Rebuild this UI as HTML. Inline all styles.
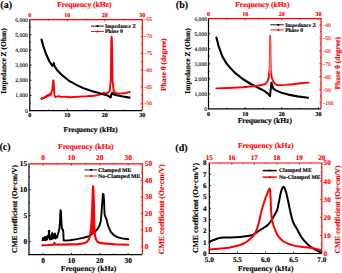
<!DOCTYPE html><html><head><meta charset="utf-8"><style>html,body{margin:0;padding:0;background:#fff;width:342px;height:273px;overflow:hidden}svg{display:block}text{font-family:"Liberation Serif", serif;font-weight:bold;text-rendering:geometricPrecision}</style></head><body>
<svg width="342" height="273" viewBox="0 0 342 273">
<rect width="342" height="273" fill="#fff"/>
<line x1="67.3" y1="110.6" x2="67.3" y2="108.9" stroke="#000000" stroke-width="0.9" stroke-linecap="butt"/>
<line x1="104.8" y1="110.6" x2="104.8" y2="108.9" stroke="#000000" stroke-width="0.9" stroke-linecap="butt"/>
<line x1="48.55" y1="110.6" x2="48.55" y2="109.6" stroke="#000000" stroke-width="0.9" stroke-linecap="butt"/>
<line x1="86.05" y1="110.6" x2="86.05" y2="109.6" stroke="#000000" stroke-width="0.9" stroke-linecap="butt"/>
<line x1="123.55" y1="110.6" x2="123.55" y2="109.6" stroke="#000000" stroke-width="0.9" stroke-linecap="butt"/>
<line x1="67.3" y1="19.6" x2="67.3" y2="21.3" stroke="#ff0000" stroke-width="0.9" stroke-linecap="butt"/>
<line x1="104.8" y1="19.6" x2="104.8" y2="21.3" stroke="#ff0000" stroke-width="0.9" stroke-linecap="butt"/>
<line x1="48.55" y1="19.6" x2="48.55" y2="20.6" stroke="#ff0000" stroke-width="0.9" stroke-linecap="butt"/>
<line x1="86.05" y1="19.6" x2="86.05" y2="20.6" stroke="#ff0000" stroke-width="0.9" stroke-linecap="butt"/>
<line x1="123.55" y1="19.6" x2="123.55" y2="20.6" stroke="#ff0000" stroke-width="0.9" stroke-linecap="butt"/>
<line x1="29.8" y1="95.43" x2="31.5" y2="95.43" stroke="#000000" stroke-width="0.9" stroke-linecap="butt"/>
<line x1="29.8" y1="80.27" x2="31.5" y2="80.27" stroke="#000000" stroke-width="0.9" stroke-linecap="butt"/>
<line x1="29.8" y1="65.1" x2="31.5" y2="65.1" stroke="#000000" stroke-width="0.9" stroke-linecap="butt"/>
<line x1="29.8" y1="49.93" x2="31.5" y2="49.93" stroke="#000000" stroke-width="0.9" stroke-linecap="butt"/>
<line x1="29.8" y1="34.77" x2="31.5" y2="34.77" stroke="#000000" stroke-width="0.9" stroke-linecap="butt"/>
<line x1="29.8" y1="103.02" x2="30.8" y2="103.02" stroke="#000000" stroke-width="0.9" stroke-linecap="butt"/>
<line x1="29.8" y1="87.85" x2="30.8" y2="87.85" stroke="#000000" stroke-width="0.9" stroke-linecap="butt"/>
<line x1="29.8" y1="72.68" x2="30.8" y2="72.68" stroke="#000000" stroke-width="0.9" stroke-linecap="butt"/>
<line x1="29.8" y1="57.52" x2="30.8" y2="57.52" stroke="#000000" stroke-width="0.9" stroke-linecap="butt"/>
<line x1="29.8" y1="42.35" x2="30.8" y2="42.35" stroke="#000000" stroke-width="0.9" stroke-linecap="butt"/>
<line x1="29.8" y1="27.18" x2="30.8" y2="27.18" stroke="#000000" stroke-width="0.9" stroke-linecap="butt"/>
<line x1="142.3" y1="103.86" x2="140.6" y2="103.86" stroke="#ff0000" stroke-width="0.9" stroke-linecap="butt"/>
<line x1="142.3" y1="87.01" x2="140.6" y2="87.01" stroke="#ff0000" stroke-width="0.9" stroke-linecap="butt"/>
<line x1="142.3" y1="70.16" x2="140.6" y2="70.16" stroke="#ff0000" stroke-width="0.9" stroke-linecap="butt"/>
<line x1="142.3" y1="53.3" x2="140.6" y2="53.3" stroke="#ff0000" stroke-width="0.9" stroke-linecap="butt"/>
<line x1="142.3" y1="36.45" x2="140.6" y2="36.45" stroke="#ff0000" stroke-width="0.9" stroke-linecap="butt"/>
<line x1="142.3" y1="95.43" x2="141.3" y2="95.43" stroke="#ff0000" stroke-width="0.9" stroke-linecap="butt"/>
<line x1="142.3" y1="78.58" x2="141.3" y2="78.58" stroke="#ff0000" stroke-width="0.9" stroke-linecap="butt"/>
<line x1="142.3" y1="61.73" x2="141.3" y2="61.73" stroke="#ff0000" stroke-width="0.9" stroke-linecap="butt"/>
<line x1="142.3" y1="44.88" x2="141.3" y2="44.88" stroke="#ff0000" stroke-width="0.9" stroke-linecap="butt"/>
<line x1="142.3" y1="28.03" x2="141.3" y2="28.03" stroke="#ff0000" stroke-width="0.9" stroke-linecap="butt"/>
<line x1="29.8" y1="19.6" x2="29.8" y2="111.2" stroke="#000000" stroke-width="1.2" stroke-linecap="butt"/>
<line x1="29.2" y1="110.6" x2="142.3" y2="110.6" stroke="#000000" stroke-width="1.2" stroke-linecap="butt"/>
<line x1="29.2" y1="19.6" x2="142.9" y2="19.6" stroke="#ff0000" stroke-width="1.2" stroke-linecap="butt"/>
<line x1="142.3" y1="19.6" x2="142.3" y2="110" stroke="#ff0000" stroke-width="1.2" stroke-linecap="butt"/>
<line x1="245.13" y1="108.9" x2="245.13" y2="107.2" stroke="#000000" stroke-width="0.9" stroke-linecap="butt"/>
<line x1="281.77" y1="108.9" x2="281.77" y2="107.2" stroke="#000000" stroke-width="0.9" stroke-linecap="butt"/>
<line x1="318.4" y1="108.9" x2="318.4" y2="107.2" stroke="#000000" stroke-width="0.9" stroke-linecap="butt"/>
<line x1="226.82" y1="108.9" x2="226.82" y2="107.9" stroke="#000000" stroke-width="0.9" stroke-linecap="butt"/>
<line x1="263.45" y1="108.9" x2="263.45" y2="107.9" stroke="#000000" stroke-width="0.9" stroke-linecap="butt"/>
<line x1="300.08" y1="108.9" x2="300.08" y2="107.9" stroke="#000000" stroke-width="0.9" stroke-linecap="butt"/>
<line x1="245.13" y1="18.7" x2="245.13" y2="20.4" stroke="#ff0000" stroke-width="0.9" stroke-linecap="butt"/>
<line x1="281.77" y1="18.7" x2="281.77" y2="20.4" stroke="#ff0000" stroke-width="0.9" stroke-linecap="butt"/>
<line x1="318.4" y1="18.7" x2="318.4" y2="20.4" stroke="#ff0000" stroke-width="0.9" stroke-linecap="butt"/>
<line x1="226.82" y1="18.7" x2="226.82" y2="19.7" stroke="#ff0000" stroke-width="0.9" stroke-linecap="butt"/>
<line x1="263.45" y1="18.7" x2="263.45" y2="19.7" stroke="#ff0000" stroke-width="0.9" stroke-linecap="butt"/>
<line x1="300.08" y1="18.7" x2="300.08" y2="19.7" stroke="#ff0000" stroke-width="0.9" stroke-linecap="butt"/>
<line x1="208.5" y1="93.87" x2="210.2" y2="93.87" stroke="#000000" stroke-width="0.9" stroke-linecap="butt"/>
<line x1="208.5" y1="78.83" x2="210.2" y2="78.83" stroke="#000000" stroke-width="0.9" stroke-linecap="butt"/>
<line x1="208.5" y1="63.8" x2="210.2" y2="63.8" stroke="#000000" stroke-width="0.9" stroke-linecap="butt"/>
<line x1="208.5" y1="48.77" x2="210.2" y2="48.77" stroke="#000000" stroke-width="0.9" stroke-linecap="butt"/>
<line x1="208.5" y1="33.73" x2="210.2" y2="33.73" stroke="#000000" stroke-width="0.9" stroke-linecap="butt"/>
<line x1="208.5" y1="101.38" x2="209.5" y2="101.38" stroke="#000000" stroke-width="0.9" stroke-linecap="butt"/>
<line x1="208.5" y1="86.35" x2="209.5" y2="86.35" stroke="#000000" stroke-width="0.9" stroke-linecap="butt"/>
<line x1="208.5" y1="71.32" x2="209.5" y2="71.32" stroke="#000000" stroke-width="0.9" stroke-linecap="butt"/>
<line x1="208.5" y1="56.28" x2="209.5" y2="56.28" stroke="#000000" stroke-width="0.9" stroke-linecap="butt"/>
<line x1="208.5" y1="41.25" x2="209.5" y2="41.25" stroke="#000000" stroke-width="0.9" stroke-linecap="butt"/>
<line x1="208.5" y1="26.22" x2="209.5" y2="26.22" stroke="#000000" stroke-width="0.9" stroke-linecap="butt"/>
<line x1="321" y1="102.46" x2="319.3" y2="102.46" stroke="#ff0000" stroke-width="0.9" stroke-linecap="butt"/>
<line x1="321" y1="89.57" x2="319.3" y2="89.57" stroke="#ff0000" stroke-width="0.9" stroke-linecap="butt"/>
<line x1="321" y1="76.69" x2="319.3" y2="76.69" stroke="#ff0000" stroke-width="0.9" stroke-linecap="butt"/>
<line x1="321" y1="63.8" x2="319.3" y2="63.8" stroke="#ff0000" stroke-width="0.9" stroke-linecap="butt"/>
<line x1="321" y1="50.91" x2="319.3" y2="50.91" stroke="#ff0000" stroke-width="0.9" stroke-linecap="butt"/>
<line x1="321" y1="38.03" x2="319.3" y2="38.03" stroke="#ff0000" stroke-width="0.9" stroke-linecap="butt"/>
<line x1="321" y1="25.14" x2="319.3" y2="25.14" stroke="#ff0000" stroke-width="0.9" stroke-linecap="butt"/>
<line x1="321" y1="96.01" x2="320" y2="96.01" stroke="#ff0000" stroke-width="0.9" stroke-linecap="butt"/>
<line x1="321" y1="83.13" x2="320" y2="83.13" stroke="#ff0000" stroke-width="0.9" stroke-linecap="butt"/>
<line x1="321" y1="70.24" x2="320" y2="70.24" stroke="#ff0000" stroke-width="0.9" stroke-linecap="butt"/>
<line x1="321" y1="57.36" x2="320" y2="57.36" stroke="#ff0000" stroke-width="0.9" stroke-linecap="butt"/>
<line x1="321" y1="44.47" x2="320" y2="44.47" stroke="#ff0000" stroke-width="0.9" stroke-linecap="butt"/>
<line x1="321" y1="31.59" x2="320" y2="31.59" stroke="#ff0000" stroke-width="0.9" stroke-linecap="butt"/>
<line x1="208.5" y1="18.7" x2="208.5" y2="109.5" stroke="#000000" stroke-width="1.2" stroke-linecap="butt"/>
<line x1="207.9" y1="108.9" x2="321" y2="108.9" stroke="#000000" stroke-width="1.2" stroke-linecap="butt"/>
<line x1="207.9" y1="18.7" x2="321.6" y2="18.7" stroke="#ff0000" stroke-width="1.2" stroke-linecap="butt"/>
<line x1="321" y1="18.7" x2="321" y2="108.3" stroke="#ff0000" stroke-width="1.2" stroke-linecap="butt"/>
<line x1="43.16" y1="254.6" x2="43.16" y2="252.9" stroke="#000000" stroke-width="0.9" stroke-linecap="butt"/>
<line x1="71.49" y1="254.6" x2="71.49" y2="252.9" stroke="#000000" stroke-width="0.9" stroke-linecap="butt"/>
<line x1="99.81" y1="254.6" x2="99.81" y2="252.9" stroke="#000000" stroke-width="0.9" stroke-linecap="butt"/>
<line x1="128.14" y1="254.6" x2="128.14" y2="252.9" stroke="#000000" stroke-width="0.9" stroke-linecap="butt"/>
<line x1="57.33" y1="254.6" x2="57.33" y2="253.6" stroke="#000000" stroke-width="0.9" stroke-linecap="butt"/>
<line x1="85.65" y1="254.6" x2="85.65" y2="253.6" stroke="#000000" stroke-width="0.9" stroke-linecap="butt"/>
<line x1="113.98" y1="254.6" x2="113.98" y2="253.6" stroke="#000000" stroke-width="0.9" stroke-linecap="butt"/>
<line x1="43.16" y1="163.9" x2="43.16" y2="165.6" stroke="#ff0000" stroke-width="0.9" stroke-linecap="butt"/>
<line x1="71.49" y1="163.9" x2="71.49" y2="165.6" stroke="#ff0000" stroke-width="0.9" stroke-linecap="butt"/>
<line x1="99.81" y1="163.9" x2="99.81" y2="165.6" stroke="#ff0000" stroke-width="0.9" stroke-linecap="butt"/>
<line x1="128.14" y1="163.9" x2="128.14" y2="165.6" stroke="#ff0000" stroke-width="0.9" stroke-linecap="butt"/>
<line x1="57.33" y1="163.9" x2="57.33" y2="164.9" stroke="#ff0000" stroke-width="0.9" stroke-linecap="butt"/>
<line x1="85.65" y1="163.9" x2="85.65" y2="164.9" stroke="#ff0000" stroke-width="0.9" stroke-linecap="butt"/>
<line x1="113.98" y1="163.9" x2="113.98" y2="164.9" stroke="#ff0000" stroke-width="0.9" stroke-linecap="butt"/>
<line x1="29" y1="241.64" x2="30.7" y2="241.64" stroke="#000000" stroke-width="0.9" stroke-linecap="butt"/>
<line x1="29" y1="215.73" x2="30.7" y2="215.73" stroke="#000000" stroke-width="0.9" stroke-linecap="butt"/>
<line x1="29" y1="189.81" x2="30.7" y2="189.81" stroke="#000000" stroke-width="0.9" stroke-linecap="butt"/>
<line x1="29" y1="228.69" x2="30" y2="228.69" stroke="#000000" stroke-width="0.9" stroke-linecap="butt"/>
<line x1="29" y1="202.77" x2="30" y2="202.77" stroke="#000000" stroke-width="0.9" stroke-linecap="butt"/>
<line x1="29" y1="176.86" x2="30" y2="176.86" stroke="#000000" stroke-width="0.9" stroke-linecap="butt"/>
<line x1="142.3" y1="246.35" x2="140.6" y2="246.35" stroke="#ff0000" stroke-width="0.9" stroke-linecap="butt"/>
<line x1="142.3" y1="229.86" x2="140.6" y2="229.86" stroke="#ff0000" stroke-width="0.9" stroke-linecap="butt"/>
<line x1="142.3" y1="213.37" x2="140.6" y2="213.37" stroke="#ff0000" stroke-width="0.9" stroke-linecap="butt"/>
<line x1="142.3" y1="196.88" x2="140.6" y2="196.88" stroke="#ff0000" stroke-width="0.9" stroke-linecap="butt"/>
<line x1="142.3" y1="180.39" x2="140.6" y2="180.39" stroke="#ff0000" stroke-width="0.9" stroke-linecap="butt"/>
<line x1="142.3" y1="238.11" x2="141.3" y2="238.11" stroke="#ff0000" stroke-width="0.9" stroke-linecap="butt"/>
<line x1="142.3" y1="221.62" x2="141.3" y2="221.62" stroke="#ff0000" stroke-width="0.9" stroke-linecap="butt"/>
<line x1="142.3" y1="205.13" x2="141.3" y2="205.13" stroke="#ff0000" stroke-width="0.9" stroke-linecap="butt"/>
<line x1="142.3" y1="188.64" x2="141.3" y2="188.64" stroke="#ff0000" stroke-width="0.9" stroke-linecap="butt"/>
<line x1="142.3" y1="172.15" x2="141.3" y2="172.15" stroke="#ff0000" stroke-width="0.9" stroke-linecap="butt"/>
<line x1="29" y1="163.9" x2="29" y2="255.2" stroke="#000000" stroke-width="1.2" stroke-linecap="butt"/>
<line x1="28.4" y1="254.6" x2="142.3" y2="254.6" stroke="#000000" stroke-width="1.2" stroke-linecap="butt"/>
<line x1="28.4" y1="163.9" x2="142.9" y2="163.9" stroke="#ff0000" stroke-width="1.2" stroke-linecap="butt"/>
<line x1="142.3" y1="163.9" x2="142.3" y2="254" stroke="#ff0000" stroke-width="1.2" stroke-linecap="butt"/>
<line x1="237.43" y1="253.5" x2="237.43" y2="251.8" stroke="#000000" stroke-width="0.9" stroke-linecap="butt"/>
<line x1="265.55" y1="253.5" x2="265.55" y2="251.8" stroke="#000000" stroke-width="0.9" stroke-linecap="butt"/>
<line x1="293.68" y1="253.5" x2="293.68" y2="251.8" stroke="#000000" stroke-width="0.9" stroke-linecap="butt"/>
<line x1="223.36" y1="253.5" x2="223.36" y2="252.5" stroke="#000000" stroke-width="0.9" stroke-linecap="butt"/>
<line x1="251.49" y1="253.5" x2="251.49" y2="252.5" stroke="#000000" stroke-width="0.9" stroke-linecap="butt"/>
<line x1="279.61" y1="253.5" x2="279.61" y2="252.5" stroke="#000000" stroke-width="0.9" stroke-linecap="butt"/>
<line x1="307.74" y1="253.5" x2="307.74" y2="252.5" stroke="#000000" stroke-width="0.9" stroke-linecap="butt"/>
<line x1="231.8" y1="163" x2="231.8" y2="164.7" stroke="#ff0000" stroke-width="0.9" stroke-linecap="butt"/>
<line x1="254.3" y1="163" x2="254.3" y2="164.7" stroke="#ff0000" stroke-width="0.9" stroke-linecap="butt"/>
<line x1="276.8" y1="163" x2="276.8" y2="164.7" stroke="#ff0000" stroke-width="0.9" stroke-linecap="butt"/>
<line x1="299.3" y1="163" x2="299.3" y2="164.7" stroke="#ff0000" stroke-width="0.9" stroke-linecap="butt"/>
<line x1="220.55" y1="163" x2="220.55" y2="164" stroke="#ff0000" stroke-width="0.9" stroke-linecap="butt"/>
<line x1="243.05" y1="163" x2="243.05" y2="164" stroke="#ff0000" stroke-width="0.9" stroke-linecap="butt"/>
<line x1="265.55" y1="163" x2="265.55" y2="164" stroke="#ff0000" stroke-width="0.9" stroke-linecap="butt"/>
<line x1="288.05" y1="163" x2="288.05" y2="164" stroke="#ff0000" stroke-width="0.9" stroke-linecap="butt"/>
<line x1="310.55" y1="163" x2="310.55" y2="164" stroke="#ff0000" stroke-width="0.9" stroke-linecap="butt"/>
<line x1="209.3" y1="242.19" x2="211" y2="242.19" stroke="#000000" stroke-width="0.9" stroke-linecap="butt"/>
<line x1="209.3" y1="230.88" x2="211" y2="230.88" stroke="#000000" stroke-width="0.9" stroke-linecap="butt"/>
<line x1="209.3" y1="219.56" x2="211" y2="219.56" stroke="#000000" stroke-width="0.9" stroke-linecap="butt"/>
<line x1="209.3" y1="208.25" x2="211" y2="208.25" stroke="#000000" stroke-width="0.9" stroke-linecap="butt"/>
<line x1="209.3" y1="196.94" x2="211" y2="196.94" stroke="#000000" stroke-width="0.9" stroke-linecap="butt"/>
<line x1="209.3" y1="185.62" x2="211" y2="185.62" stroke="#000000" stroke-width="0.9" stroke-linecap="butt"/>
<line x1="209.3" y1="174.31" x2="211" y2="174.31" stroke="#000000" stroke-width="0.9" stroke-linecap="butt"/>
<line x1="209.3" y1="247.84" x2="210.3" y2="247.84" stroke="#000000" stroke-width="0.9" stroke-linecap="butt"/>
<line x1="209.3" y1="236.53" x2="210.3" y2="236.53" stroke="#000000" stroke-width="0.9" stroke-linecap="butt"/>
<line x1="209.3" y1="225.22" x2="210.3" y2="225.22" stroke="#000000" stroke-width="0.9" stroke-linecap="butt"/>
<line x1="209.3" y1="213.91" x2="210.3" y2="213.91" stroke="#000000" stroke-width="0.9" stroke-linecap="butt"/>
<line x1="209.3" y1="202.59" x2="210.3" y2="202.59" stroke="#000000" stroke-width="0.9" stroke-linecap="butt"/>
<line x1="209.3" y1="191.28" x2="210.3" y2="191.28" stroke="#000000" stroke-width="0.9" stroke-linecap="butt"/>
<line x1="209.3" y1="179.97" x2="210.3" y2="179.97" stroke="#000000" stroke-width="0.9" stroke-linecap="butt"/>
<line x1="209.3" y1="168.66" x2="210.3" y2="168.66" stroke="#000000" stroke-width="0.9" stroke-linecap="butt"/>
<line x1="321.8" y1="235.4" x2="320.1" y2="235.4" stroke="#ff0000" stroke-width="0.9" stroke-linecap="butt"/>
<line x1="321.8" y1="217.3" x2="320.1" y2="217.3" stroke="#ff0000" stroke-width="0.9" stroke-linecap="butt"/>
<line x1="321.8" y1="199.2" x2="320.1" y2="199.2" stroke="#ff0000" stroke-width="0.9" stroke-linecap="butt"/>
<line x1="321.8" y1="181.1" x2="320.1" y2="181.1" stroke="#ff0000" stroke-width="0.9" stroke-linecap="butt"/>
<line x1="321.8" y1="244.45" x2="320.8" y2="244.45" stroke="#ff0000" stroke-width="0.9" stroke-linecap="butt"/>
<line x1="321.8" y1="226.35" x2="320.8" y2="226.35" stroke="#ff0000" stroke-width="0.9" stroke-linecap="butt"/>
<line x1="321.8" y1="208.25" x2="320.8" y2="208.25" stroke="#ff0000" stroke-width="0.9" stroke-linecap="butt"/>
<line x1="321.8" y1="190.15" x2="320.8" y2="190.15" stroke="#ff0000" stroke-width="0.9" stroke-linecap="butt"/>
<line x1="321.8" y1="172.05" x2="320.8" y2="172.05" stroke="#ff0000" stroke-width="0.9" stroke-linecap="butt"/>
<line x1="209.3" y1="163" x2="209.3" y2="254.1" stroke="#000000" stroke-width="1.2" stroke-linecap="butt"/>
<line x1="208.7" y1="253.5" x2="321.8" y2="253.5" stroke="#000000" stroke-width="1.2" stroke-linecap="butt"/>
<line x1="208.7" y1="163" x2="322.4" y2="163" stroke="#ff0000" stroke-width="1.2" stroke-linecap="butt"/>
<line x1="321.8" y1="163" x2="321.8" y2="252.9" stroke="#ff0000" stroke-width="1.2" stroke-linecap="butt"/>
<path d="M41.3 98.5 L44 97.6 L46 96.4 L47.7 95.2 L50.7 93.9 L52.3 90 L53.2 80.5 L53.6 80.5 L54.3 94.5 L55.3 97.2 L58.3 96.2 L61.8 96.9 L66 96.8 L69.6 97.2 L84.3 96.4 L94 95.7 L99 94.9 L103 93.9 L104 92.7 L105.5 93.4 L108 92.9 L109.6 90.8 L110.8 80 L111.3 40 L111.6 36.8 L111.9 40 L112.5 80 L113.6 90.5 L115.4 93 L119.2 93.6 L125.6 93 L129.7 92" fill="none" stroke="#ff0000" stroke-width="1.9" stroke-linejoin="round" stroke-linecap="round"/>
<path d="M41.5 99.3 L43 98.4 L44.5 98 L45.5 96.6 L46.5 97.3 L47.5 95.6 L48.5 96.3 L49.5 94.9 L50.5 95.5 L51.5 93.5" fill="none" stroke="#ff0000" stroke-width="1.4" stroke-linejoin="round" stroke-linecap="round"/>
<path d="M41.5 39.5 L43.2 45.8 L45.9 53.7 L49.2 61 L52.2 65.8 L53.2 64.5 L53.8 63.2 L54.6 66.2 L57 70 L62.3 75.4 L69.6 81.2 L77 85.2 L84.3 88.6 L91.6 91 L98.9 93 L104 94.6 L107.7 95.6 L110.6 97.4 L111.6 94 L112.4 92.6 L113.6 94.2 L115.4 95 L121.8 96.3 L129.5 97.6" fill="none" stroke="#000000" stroke-width="2.1" stroke-linejoin="round" stroke-linecap="round"/>
<path d="M216.4 37.6 L218.6 46.1 L222.3 56.4 L226.7 63.7 L231.8 69.6 L235.3 73.2 L242.7 79 L250 83.5 L257.3 87.2 L264.7 91.1 L268.6 94.3 L270 96 L270.8 88 L271.4 82.9 L272.3 86 L273.5 88.8 L276 90.4 L280.6 92.4 L288.2 94.6 L297.4 96.4 L308 97.8" fill="none" stroke="#000000" stroke-width="2.1" stroke-linejoin="round" stroke-linecap="round"/>
<path d="M216.4 88.4 L228 88 L242.7 87.2 L257.3 85.8 L264.7 84.3 L267.4 81.6 L268.8 77 L269.2 72 L270.3 72 L271.2 72 L271.6 77 L273.3 81.6 L275.5 84.3 L277.6 85.2 L285.2 84.9 L292.8 84.2 L300.4 83.3 L308.8 82.6" fill="none" stroke="#ff0000" stroke-width="1.9" stroke-linejoin="round" stroke-linecap="round"/>
<path d="M269.2 74 L269.5 60 L269.8 45 L270 35.5 L270.4 35.5 L270.7 45 L270.9 60 L271.2 74" fill="none" stroke="#ff0000" stroke-width="1.2" stroke-linejoin="round" stroke-linecap="round"/>
<path d="M269.5 60 L269.8 45 L270.0 36 L270.4 36 L270.7 45 L270.9 60 L271.2 74 L269.2 74Z" fill="#ff8080"/>
<path d="M42.4 240.2 L43.2 237.8 L44 240 L44.8 237 L45.6 240.2 L46.4 236.8 L47.2 239.5 L48 235.5 L48.6 237 L49 231 L49.4 237 L50 239.5 L50.8 235.5 L51.5 239 L52.2 233 L53 238.5 L53.7 234.5 L54.4 238 L54.9 233.5 L55.6 238.5 L56.4 236 L57.2 237.5 L57.8 234.5 L58.6 232 L59.4 228.5 L60 222 L60.3 212 L60.6 210.3 L61 212 L61.4 222 L61.9 228.5 L62.8 229.5 L63.3 232 L63.6 240.2 L66 240.6 L70 240.3 L74 239.6 L78 238.9 L83 237.9 L88 236.5 L90.4 235.3 L92.5 233.6 L95.1 231.5 L97.6 229 L99.5 225.5 L100.7 221.5 L101.5 213 L102.3 202 L102.9 194 L103.5 194 L104.1 202 L104.6 214.6 L106.5 219.3 L108.2 226.2 L111 232.3 L114.6 235.7 L118 237.4 L122 238.4 L128.3 239.3" fill="none" stroke="#000000" stroke-width="1.9" stroke-linejoin="round" stroke-linecap="round"/>
<path d="M42.3 245.2 L48 245 L53.6 244.6 L54.3 242.8 L55.1 244.5 L62 244.6 L70 244.4 L78 244.1 L82.2 243.6 L85.5 242.7 L87.4 241.5 L88.8 239.3 L89.9 236.2 L90.7 231 L91.4 224 L92 212 L92.5 200 L92.8 190 L93.1 186.2 L93.4 190 L93.8 200 L94.1 212 L94.3 222 L94.5 230 L95 235.5 L95.9 239.2 L97.2 241.4 L99 242.6 L103.3 243.4 L114.4 244.2 L128.3 244.8" fill="none" stroke="#ff0000" stroke-width="2.1" stroke-linejoin="round" stroke-linecap="round"/>
<path d="M90.7 231 L91.4 224 L92.0 212 L92.5 200 L92.8 190 L93.1 186.2 L93.4 190 L93.8 200 L94.1 212 L94.3 222 L94.5 230 L94.7 233.5 L90.4 233.5Z" fill="#ff0000"/>
<circle cx="49.1" cy="231.2" r="1.2" fill="#000000"/>
<path d="M209.4 241.8 C210 241.53 211.73 240.72 213 240.2 C214.27 239.68 215.75 239.12 217 238.7 C218.25 238.28 219.33 237.92 220.5 237.7 C221.67 237.48 222.75 237.45 224 237.4 C225.25 237.35 226.12 237.42 228 237.4 C229.88 237.38 232.62 237.43 235.3 237.3 C237.98 237.17 241.17 237 244.1 236.6 C247.03 236.2 250.83 235.57 252.9 234.9 C254.97 234.23 255.33 233.38 256.5 232.6 C257.67 231.82 258.83 230.92 259.9 230.2 C260.97 229.48 261.6 229.17 262.9 228.3 C264.2 227.43 266.35 226.22 267.7 225 C269.05 223.78 269.92 222.57 271 221 C272.08 219.43 273.27 217.22 274.2 215.6 C275.13 213.98 276.03 212.5 276.6 211.3 C277.17 210.1 277.22 209.95 277.6 208.4 C277.98 206.85 278.4 204.48 278.9 202 C279.4 199.52 280.05 195.75 280.6 193.5 C281.15 191.25 281.7 189.62 282.2 188.5 C282.7 187.38 283.13 186.72 283.6 186.8 C284.07 186.88 284.55 187.97 285 189 C285.45 190.03 285.82 191.17 286.3 193 C286.78 194.83 287.35 197.43 287.9 200 C288.45 202.57 288.77 204.8 289.6 208.4 C290.43 212 291.67 218.17 292.9 221.6 C294.13 225.03 295.57 226.38 297 229 C298.43 231.62 299.75 234.77 301.5 237.3 C303.25 239.83 305.5 242.32 307.5 244.2 C309.5 246.08 311.83 247.5 313.5 248.6 C315.17 249.7 316.25 250.17 317.5 250.8 C318.75 251.43 320.42 252.13 321 252.4" fill="none" stroke="#000000" stroke-width="2" stroke-linejoin="round" stroke-linecap="round"/>
<path d="M209.4 249.5 C210.83 249.38 215.15 249.05 218 248.8 C220.85 248.55 224 248.33 226.5 248 C229 247.67 230.95 247.23 233 246.8 C235.05 246.37 237.05 245.95 238.8 245.4 C240.55 244.85 242.03 244.23 243.5 243.5 C244.97 242.77 246.43 241.82 247.6 241 C248.77 240.18 249.62 239.37 250.5 238.6 C251.38 237.83 252.18 237.23 252.9 236.4 C253.62 235.57 254.22 234.62 254.8 233.6 C255.38 232.58 255.9 231.52 256.4 230.3 C256.9 229.08 257.37 227.72 257.8 226.3 C258.23 224.88 258.37 224.42 259 221.8 C259.63 219.18 260.68 214.07 261.6 210.6 C262.52 207.13 263.58 203.77 264.5 201 C265.42 198.23 266.38 195.83 267.1 194 C267.82 192.17 268.35 190.9 268.8 190 C269.25 189.1 269.55 188.27 269.8 188.6 C270.05 188.93 270.13 189.43 270.3 192 C270.47 194.57 270.6 199.92 270.8 204 C271 208.08 271.2 213.42 271.5 216.5 C271.8 219.58 272.2 220.83 272.6 222.5 C273 224.17 273.17 224.53 273.9 226.5 C274.63 228.47 275.98 232.33 277 234.3 C278.02 236.27 278.9 237.1 280 238.3 C281.1 239.5 282.23 240.6 283.6 241.5 C284.97 242.4 286.47 243.02 288.2 243.7 C289.93 244.38 292.12 245.12 294 245.6 C295.88 246.08 297.5 246.33 299.5 246.6 C301.5 246.87 303.92 246.97 306 247.2 C308.08 247.43 310 247.63 312 248 C314 248.37 316.5 249.07 318 249.4 C319.5 249.73 320.5 249.9 321 250" fill="none" stroke="#ff0000" stroke-width="2" stroke-linejoin="round" stroke-linecap="round"/>
<text x="29.8" y="117" font-size="6" fill="#000000" stroke="#000000" stroke-width="0.15" text-anchor="middle">0</text>
<text x="67.3" y="117" font-size="6" fill="#000000" stroke="#000000" stroke-width="0.15" text-anchor="middle">10</text>
<text x="104.8" y="117" font-size="6" fill="#000000" stroke="#000000" stroke-width="0.15" text-anchor="middle">20</text>
<text x="142.3" y="117" font-size="6" fill="#000000" stroke="#000000" stroke-width="0.15" text-anchor="middle">30</text>
<text x="29.8" y="16.6" font-size="6" fill="#ff0000" stroke="#ff0000" stroke-width="0.15" text-anchor="middle">0</text>
<text x="67.3" y="16.6" font-size="6" fill="#ff0000" stroke="#ff0000" stroke-width="0.15" text-anchor="middle">10</text>
<text x="104.8" y="16.6" font-size="6" fill="#ff0000" stroke="#ff0000" stroke-width="0.15" text-anchor="middle">20</text>
<text x="142.3" y="16.6" font-size="6" fill="#ff0000" stroke="#ff0000" stroke-width="0.15" text-anchor="middle">30</text>
<text x="27.8" y="112.6" font-size="5.6" fill="#000000" stroke="#000000"  text-anchor="end" font-weight="normal" style="font-weight:normal" stroke-width="0.1">0</text>
<text x="27.8" y="97.43" font-size="5.6" fill="#000000" stroke="#000000"  text-anchor="end" font-weight="normal" style="font-weight:normal" stroke-width="0.1">1,000</text>
<text x="27.8" y="82.27" font-size="5.6" fill="#000000" stroke="#000000"  text-anchor="end" font-weight="normal" style="font-weight:normal" stroke-width="0.1">2,000</text>
<text x="27.8" y="67.1" font-size="5.6" fill="#000000" stroke="#000000"  text-anchor="end" font-weight="normal" style="font-weight:normal" stroke-width="0.1">3,000</text>
<text x="27.8" y="51.93" font-size="5.6" fill="#000000" stroke="#000000"  text-anchor="end" font-weight="normal" style="font-weight:normal" stroke-width="0.1">4,000</text>
<text x="27.8" y="36.77" font-size="5.6" fill="#000000" stroke="#000000"  text-anchor="end" font-weight="normal" style="font-weight:normal" stroke-width="0.1">5,000</text>
<text x="27.8" y="21.6" font-size="5.6" fill="#000000" stroke="#000000"  text-anchor="end" font-weight="normal" style="font-weight:normal" stroke-width="0.1">6,000</text>
<text x="144.6" y="21.1" font-size="5.6" fill="#ff0000" stroke="#ff0000"  text-anchor="start" font-weight="normal" style="font-weight:normal" stroke-width="0.1">-65</text>
<text x="144.6" y="37.95" font-size="5.6" fill="#ff0000" stroke="#ff0000"  text-anchor="start" font-weight="normal" style="font-weight:normal" stroke-width="0.1">-70</text>
<text x="144.6" y="54.8" font-size="5.6" fill="#ff0000" stroke="#ff0000"  text-anchor="start" font-weight="normal" style="font-weight:normal" stroke-width="0.1">-75</text>
<text x="144.6" y="71.66" font-size="5.6" fill="#ff0000" stroke="#ff0000"  text-anchor="start" font-weight="normal" style="font-weight:normal" stroke-width="0.1">-80</text>
<text x="144.6" y="88.51" font-size="5.6" fill="#ff0000" stroke="#ff0000"  text-anchor="start" font-weight="normal" style="font-weight:normal" stroke-width="0.1">-85</text>
<text x="144.6" y="105.36" font-size="5.6" fill="#ff0000" stroke="#ff0000"  text-anchor="start" font-weight="normal" style="font-weight:normal" stroke-width="0.1">-90</text>
<text x="208.5" y="115.6" font-size="6" fill="#000000" stroke="#000000" stroke-width="0.15" text-anchor="middle">0</text>
<text x="245.13" y="115.6" font-size="6" fill="#000000" stroke="#000000" stroke-width="0.15" text-anchor="middle">10</text>
<text x="281.77" y="115.6" font-size="6" fill="#000000" stroke="#000000" stroke-width="0.15" text-anchor="middle">20</text>
<text x="318.4" y="115.6" font-size="6" fill="#000000" stroke="#000000" stroke-width="0.15" text-anchor="middle">30</text>
<text x="208.5" y="15.8" font-size="6" fill="#ff0000" stroke="#ff0000" stroke-width="0.15" text-anchor="middle">0</text>
<text x="245.13" y="15.8" font-size="6" fill="#ff0000" stroke="#ff0000" stroke-width="0.15" text-anchor="middle">10</text>
<text x="281.77" y="15.8" font-size="6" fill="#ff0000" stroke="#ff0000" stroke-width="0.15" text-anchor="middle">20</text>
<text x="318.4" y="15.8" font-size="6" fill="#ff0000" stroke="#ff0000" stroke-width="0.15" text-anchor="middle">30</text>
<text x="207" y="110.9" font-size="5.6" fill="#000000" stroke="#000000"  text-anchor="end" font-weight="normal" style="font-weight:normal" stroke-width="0.1">0</text>
<text x="207" y="95.87" font-size="5.6" fill="#000000" stroke="#000000"  text-anchor="end" font-weight="normal" style="font-weight:normal" stroke-width="0.1">1,000</text>
<text x="207" y="80.83" font-size="5.6" fill="#000000" stroke="#000000"  text-anchor="end" font-weight="normal" style="font-weight:normal" stroke-width="0.1">2,000</text>
<text x="207" y="65.8" font-size="5.6" fill="#000000" stroke="#000000"  text-anchor="end" font-weight="normal" style="font-weight:normal" stroke-width="0.1">3,000</text>
<text x="207" y="50.77" font-size="5.6" fill="#000000" stroke="#000000"  text-anchor="end" font-weight="normal" style="font-weight:normal" stroke-width="0.1">4,000</text>
<text x="207" y="35.73" font-size="5.6" fill="#000000" stroke="#000000"  text-anchor="end" font-weight="normal" style="font-weight:normal" stroke-width="0.1">5,000</text>
<text x="207" y="20.7" font-size="5.6" fill="#000000" stroke="#000000"  text-anchor="end" font-weight="normal" style="font-weight:normal" stroke-width="0.1">6,000</text>
<text x="323.3" y="27.34" font-size="5.6" fill="#ff0000" stroke="#ff0000"  text-anchor="start" font-weight="normal" style="font-weight:normal" stroke-width="0.1">-40</text>
<text x="323.3" y="40.23" font-size="5.6" fill="#ff0000" stroke="#ff0000"  text-anchor="start" font-weight="normal" style="font-weight:normal" stroke-width="0.1">-50</text>
<text x="323.3" y="53.11" font-size="5.6" fill="#ff0000" stroke="#ff0000"  text-anchor="start" font-weight="normal" style="font-weight:normal" stroke-width="0.1">-60</text>
<text x="323.3" y="66" font-size="5.6" fill="#ff0000" stroke="#ff0000"  text-anchor="start" font-weight="normal" style="font-weight:normal" stroke-width="0.1">-70</text>
<text x="323.3" y="78.89" font-size="5.6" fill="#ff0000" stroke="#ff0000"  text-anchor="start" font-weight="normal" style="font-weight:normal" stroke-width="0.1">-80</text>
<text x="323.3" y="91.77" font-size="5.6" fill="#ff0000" stroke="#ff0000"  text-anchor="start" font-weight="normal" style="font-weight:normal" stroke-width="0.1">-90</text>
<text x="323.3" y="104.66" font-size="5.6" fill="#ff0000" stroke="#ff0000"  text-anchor="start" font-weight="normal" style="font-weight:normal" stroke-width="0.1">-100</text>
<text x="43.16" y="262.6" font-size="7.4" fill="#000000" stroke="#000000" stroke-width="0.15" text-anchor="middle">0</text>
<text x="71.49" y="262.6" font-size="7.4" fill="#000000" stroke="#000000" stroke-width="0.15" text-anchor="middle">10</text>
<text x="99.81" y="262.6" font-size="7.4" fill="#000000" stroke="#000000" stroke-width="0.15" text-anchor="middle">20</text>
<text x="128.14" y="262.6" font-size="7.4" fill="#000000" stroke="#000000" stroke-width="0.15" text-anchor="middle">30</text>
<text x="43.16" y="159.6" font-size="7.4" fill="#ff0000" stroke="#ff0000" stroke-width="0.15" text-anchor="middle">0</text>
<text x="71.49" y="159.6" font-size="7.4" fill="#ff0000" stroke="#ff0000" stroke-width="0.15" text-anchor="middle">10</text>
<text x="99.81" y="159.6" font-size="7.4" fill="#ff0000" stroke="#ff0000" stroke-width="0.15" text-anchor="middle">20</text>
<text x="128.14" y="159.6" font-size="7.4" fill="#ff0000" stroke="#ff0000" stroke-width="0.15" text-anchor="middle">30</text>
<text x="27.2" y="244.14" font-size="7.4" fill="#000000" stroke="#000000" stroke-width="0.15" text-anchor="end">0</text>
<text x="27.2" y="218.23" font-size="7.4" fill="#000000" stroke="#000000" stroke-width="0.15" text-anchor="end">5</text>
<text x="27.2" y="192.31" font-size="7.4" fill="#000000" stroke="#000000" stroke-width="0.15" text-anchor="end">10</text>
<text x="27.2" y="166.4" font-size="7.4" fill="#000000" stroke="#000000" stroke-width="0.15" text-anchor="end">15</text>
<text x="144.8" y="248.85" font-size="7.4" fill="#ff0000" stroke="#ff0000" stroke-width="0.15" text-anchor="start">0</text>
<text x="144.8" y="232.36" font-size="7.4" fill="#ff0000" stroke="#ff0000" stroke-width="0.15" text-anchor="start">10</text>
<text x="144.8" y="215.87" font-size="7.4" fill="#ff0000" stroke="#ff0000" stroke-width="0.15" text-anchor="start">20</text>
<text x="144.8" y="199.38" font-size="7.4" fill="#ff0000" stroke="#ff0000" stroke-width="0.15" text-anchor="start">30</text>
<text x="144.8" y="182.89" font-size="7.4" fill="#ff0000" stroke="#ff0000" stroke-width="0.15" text-anchor="start">40</text>
<text x="144.8" y="166.4" font-size="7.4" fill="#ff0000" stroke="#ff0000" stroke-width="0.15" text-anchor="start">50</text>
<text x="209.3" y="262" font-size="7.2" fill="#000000" stroke="#000000" stroke-width="0.15" text-anchor="middle">5.0</text>
<text x="237.43" y="262" font-size="7.2" fill="#000000" stroke="#000000" stroke-width="0.15" text-anchor="middle">5.5</text>
<text x="265.55" y="262" font-size="7.2" fill="#000000" stroke="#000000" stroke-width="0.15" text-anchor="middle">6.0</text>
<text x="293.68" y="262" font-size="7.2" fill="#000000" stroke="#000000" stroke-width="0.15" text-anchor="middle">6.5</text>
<text x="321.8" y="262" font-size="7.2" fill="#000000" stroke="#000000" stroke-width="0.15" text-anchor="middle">7.0</text>
<text x="209.3" y="159.8" font-size="7.2" fill="#ff0000" stroke="#ff0000" stroke-width="0.15" text-anchor="middle">15</text>
<text x="231.8" y="159.8" font-size="7.2" fill="#ff0000" stroke="#ff0000" stroke-width="0.15" text-anchor="middle">16</text>
<text x="254.3" y="159.8" font-size="7.2" fill="#ff0000" stroke="#ff0000" stroke-width="0.15" text-anchor="middle">17</text>
<text x="276.8" y="159.8" font-size="7.2" fill="#ff0000" stroke="#ff0000" stroke-width="0.15" text-anchor="middle">18</text>
<text x="299.3" y="159.8" font-size="7.2" fill="#ff0000" stroke="#ff0000" stroke-width="0.15" text-anchor="middle">19</text>
<text x="321.8" y="159.8" font-size="7.2" fill="#ff0000" stroke="#ff0000" stroke-width="0.15" text-anchor="middle">20</text>
<text x="206.7" y="255.9" font-size="7.2" fill="#000000" stroke="#000000" stroke-width="0.15" text-anchor="end">0</text>
<text x="206.7" y="244.59" font-size="7.2" fill="#000000" stroke="#000000" stroke-width="0.15" text-anchor="end">1</text>
<text x="206.7" y="233.28" font-size="7.2" fill="#000000" stroke="#000000" stroke-width="0.15" text-anchor="end">2</text>
<text x="206.7" y="221.96" font-size="7.2" fill="#000000" stroke="#000000" stroke-width="0.15" text-anchor="end">3</text>
<text x="206.7" y="210.65" font-size="7.2" fill="#000000" stroke="#000000" stroke-width="0.15" text-anchor="end">4</text>
<text x="206.7" y="199.34" font-size="7.2" fill="#000000" stroke="#000000" stroke-width="0.15" text-anchor="end">5</text>
<text x="206.7" y="188.03" font-size="7.2" fill="#000000" stroke="#000000" stroke-width="0.15" text-anchor="end">6</text>
<text x="206.7" y="176.71" font-size="7.2" fill="#000000" stroke="#000000" stroke-width="0.15" text-anchor="end">7</text>
<text x="206.7" y="165.4" font-size="7.2" fill="#000000" stroke="#000000" stroke-width="0.15" text-anchor="end">8</text>
<text x="323.6" y="255.9" font-size="7.2" fill="#ff0000" stroke="#ff0000" stroke-width="0.15" text-anchor="start">0</text>
<text x="323.6" y="237.8" font-size="7.2" fill="#ff0000" stroke="#ff0000" stroke-width="0.15" text-anchor="start">10</text>
<text x="323.6" y="219.7" font-size="7.2" fill="#ff0000" stroke="#ff0000" stroke-width="0.15" text-anchor="start">20</text>
<text x="323.6" y="201.6" font-size="7.2" fill="#ff0000" stroke="#ff0000" stroke-width="0.15" text-anchor="start">30</text>
<text x="323.6" y="183.5" font-size="7.2" fill="#ff0000" stroke="#ff0000" stroke-width="0.15" text-anchor="start">40</text>
<text x="323.6" y="165.4" font-size="7.2" fill="#ff0000" stroke="#ff0000" stroke-width="0.15" text-anchor="start">50</text>
<text x="0.3" y="7.6" font-size="10" fill="#000000" stroke="#000000" stroke-width="0.15" text-anchor="start">(a)</text>
<text x="175.8" y="7.6" font-size="10" fill="#000000" stroke="#000000" stroke-width="0.15" text-anchor="start">(b)</text>
<text x="-0.5" y="150.3" font-size="10" fill="#000000" stroke="#000000" stroke-width="0.15" text-anchor="start">(c)</text>
<text x="175.3" y="150.5" font-size="10" fill="#000000" stroke="#000000" stroke-width="0.15" text-anchor="start">(d)</text>
<text x="84.3" y="6.6" font-size="7.5" fill="#ff0000" stroke="#ff0000" stroke-width="0.15" text-anchor="middle">Frequency (kHz)</text>
<text x="90.7" y="132" font-size="7.5" fill="#000000" stroke="#000000" stroke-width="0.15" text-anchor="middle">Frequency (kHz)</text>
<text x="262.3" y="6.6" font-size="7.5" fill="#ff0000" stroke="#ff0000" stroke-width="0.15" text-anchor="middle">Frequency (kHz)</text>
<text x="264.8" y="122.8" font-size="7.5" fill="#000000" stroke="#000000" stroke-width="0.15" text-anchor="middle">Frequency (kHz)</text>
<text x="85.9" y="148.6" font-size="7.7" fill="#ff0000" stroke="#ff0000" stroke-width="0.15" text-anchor="middle">Frequency (kHz)</text>
<text x="88.6" y="271.3" font-size="7.7" fill="#000000" stroke="#000000" stroke-width="0.15" text-anchor="middle">Frequency (kHz)</text>
<text x="265.7" y="148.2" font-size="7.7" fill="#ff0000" stroke="#ff0000" stroke-width="0.15" text-anchor="middle">Frequency (kHz)</text>
<text x="265.7" y="270.9" font-size="7.7" fill="#000000" stroke="#000000" stroke-width="0.15" text-anchor="middle">Frequency (kHz)</text>
<text x="6.2" y="61" font-size="7.5" fill="#000000" stroke="#000000" stroke-width="0.15" text-anchor="middle" transform="rotate(-90 6.2 61)">Impedance Z (Ohm)</text>
<text x="189.8" y="61" font-size="7.5" fill="#000000" stroke="#000000" stroke-width="0.15" text-anchor="middle" transform="rotate(-90 189.8 61)">Impedance Z (Ohm)</text>
<text x="165.8" y="64.7" font-size="7.5" fill="#ff0000" stroke="#ff0000" stroke-width="0.15" text-anchor="middle" transform="rotate(-90 165.8 64.7)">Phase θ (degree)</text>
<text x="340" y="63.3" font-size="7.5" fill="#ff0000" stroke="#ff0000" stroke-width="0.15" text-anchor="middle" transform="rotate(-90 340 63.3)">Phase θ (degree)</text>
<text x="16.6" y="209" font-size="7.5" fill="#000000" stroke="#000000" stroke-width="0.15" text-anchor="middle" transform="rotate(-90 16.6 209)">CME coefficient (Oe·cm/V)</text>
<text x="163.6" y="209.1" font-size="7.7" fill="#ff0000" stroke="#ff0000" stroke-width="0.15" text-anchor="middle" transform="rotate(-90 163.6 209.1)">CME coefficient (Oe·cm/V)</text>
<text x="198.2" y="207.9" font-size="7.7" fill="#000000" stroke="#000000" stroke-width="0.15" text-anchor="middle" transform="rotate(-90 198.2 207.9)">CME coefficient (Oe·cm/V)</text>
<text x="340.4" y="209.5" font-size="7.5" fill="#ff0000" stroke="#ff0000" stroke-width="0.15" text-anchor="middle" transform="rotate(-90 340.4 209.5)">CME coefficient (Oe·cm/V)</text>
<line x1="91" y1="26.1" x2="103.9" y2="26.1" stroke="#000000" stroke-width="0.9" stroke-linecap="butt"/>
<circle cx="97.5" cy="26.1" r="1.1" fill="#000000"/>
<text x="104.9" y="27.92" font-size="5.5" fill="#000000" stroke="#000000" stroke-width="0.15" text-anchor="start">Impedance Z</text>
<line x1="91" y1="31.5" x2="103.9" y2="31.5" stroke="#ff0000" stroke-width="0.9" stroke-linecap="butt"/>
<circle cx="97.5" cy="31.5" r="1.1" fill="#ff0000"/>
<text x="104.9" y="33.31" font-size="5.5" fill="#000000" stroke="#000000" stroke-width="0.15" text-anchor="start">Phase θ</text>
<line x1="270.3" y1="24.8" x2="283.8" y2="24.8" stroke="#000000" stroke-width="0.9" stroke-linecap="butt"/>
<circle cx="278.3" cy="24.8" r="1.1" fill="#000000"/>
<text x="285.2" y="26.62" font-size="5.5" fill="#000000" stroke="#000000" stroke-width="0.15" text-anchor="start">Impedance Z</text>
<line x1="270.3" y1="29.9" x2="283.8" y2="29.9" stroke="#ff0000" stroke-width="0.9" stroke-linecap="butt"/>
<circle cx="278.3" cy="29.9" r="1.1" fill="#ff0000"/>
<text x="285.2" y="31.71" font-size="5.5" fill="#000000" stroke="#000000" stroke-width="0.15" text-anchor="start">Phase θ</text>
<line x1="84.5" y1="169.9" x2="97.2" y2="169.9" stroke="#000000" stroke-width="0.9" stroke-linecap="butt"/>
<circle cx="91.2" cy="169.9" r="1.1" fill="#000000"/>
<text x="98.1" y="171.81" font-size="5.8" fill="#000000" stroke="#000000" stroke-width="0.15" text-anchor="start">Clamped ME</text>
<line x1="84.5" y1="176" x2="97.2" y2="176" stroke="#ff0000" stroke-width="0.9" stroke-linecap="butt"/>
<circle cx="91.2" cy="176" r="1.1" fill="#ff0000"/>
<text x="98.1" y="177.91" font-size="5.8" fill="#000000" stroke="#000000" stroke-width="0.15" text-anchor="start">No-Clamped ME</text>
<line x1="262.7" y1="170.6" x2="276.7" y2="170.6" stroke="#000000" stroke-width="1.5" stroke-linecap="butt"/>
<circle cx="270" cy="170.6" r="1.1" fill="#000000"/>
<text x="279" y="172.48" font-size="5.7" fill="#000000" stroke="#000000" stroke-width="0.15" text-anchor="start">Clamped ME</text>
<line x1="262.7" y1="177.1" x2="276.7" y2="177.1" stroke="#ff0000" stroke-width="1.5" stroke-linecap="butt"/>
<circle cx="270" cy="177.1" r="1.1" fill="#ff0000"/>
<text x="279" y="178.98" font-size="5.7" fill="#000000" stroke="#000000" stroke-width="0.15" text-anchor="start">No-Clamped ME</text>
</svg></body></html>
